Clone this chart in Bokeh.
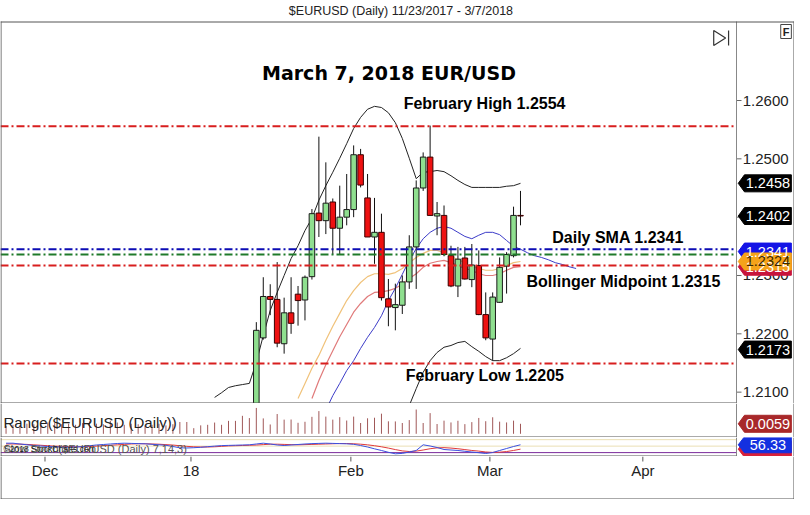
import numpy as np
import pandas as pd
from bokeh.plotting import figure
from bokeh.layouts import column
from bokeh.models import Range1d
from bokeh.core.properties import value
from bokeh.embed import file_html
from bokeh.resources import INLINE

# ------------------------------------------------------------------ data
chart_title = "$EURUSD (Daily)  11/23/2017 - 3/7/2018"
headline = "March 7, 2018 EUR/USD"
sessions = pd.bdate_range("2017-11-23", "2018-03-07")      # 75 daily sessions
first_candle = 36                                            # Jan 12 (earlier bars are below the price window)

opens = [1.2030, 1.2193, 1.2264, 1.2259, 1.2183, 1.2236, 1.2268, 1.2258, 1.2298, 1.2407,
         1.2394, 1.2426, 1.2381, 1.2400, 1.2413, 1.2507, 1.2433, 1.2366, 1.2374, 1.2260,
         1.2245, 1.2249, 1.2289, 1.2349, 1.2450, 1.2503, 1.2402, 1.2403, 1.2334, 1.2282,
         1.2330, 1.2293, 1.2317, 1.2233, 1.2191, 1.2254, 1.2316, 1.2334, 1.2403]
highs = [1.2220, 1.2297, 1.2285, 1.2323, 1.2262, 1.2297, 1.2282, 1.2300, 1.2414, 1.2538,
         1.2494, 1.2432, 1.2454, 1.2474, 1.2523, 1.2517, 1.2474, 1.2433, 1.2406, 1.2294,
         1.2286, 1.2300, 1.2369, 1.2463, 1.2511, 1.2557, 1.2426, 1.2420, 1.2351, 1.2349,
         1.2349, 1.2354, 1.2343, 1.2271, 1.2271, 1.2331, 1.2340, 1.2418, 1.2445]
lows = [1.2020, 1.2190, 1.2232, 1.2177, 1.2166, 1.2200, 1.2214, 1.2223, 1.2293, 1.2366,
        1.2371, 1.2336, 1.2336, 1.2386, 1.2400, 1.2451, 1.2366, 1.2320, 1.2257, 1.2213,
        1.2206, 1.2234, 1.2277, 1.2277, 1.2445, 1.2403, 1.2369, 1.2333, 1.2280, 1.2263,
        1.2293, 1.2280, 1.2232, 1.2189, 1.2154, 1.2253, 1.2269, 1.2331, 1.2386]
closes = [1.2206, 1.2264, 1.2259, 1.2184, 1.2236, 1.2218, 1.2257, 1.2297, 1.2406, 1.2394,
          1.2424, 1.2381, 1.2400, 1.2413, 1.2507, 1.2455, 1.2366, 1.2374, 1.2262, 1.2246,
          1.2250, 1.2289, 1.2349, 1.2450, 1.2503, 1.2403, 1.2406, 1.2336, 1.2282, 1.2328,
          1.2294, 1.2318, 1.2233, 1.2193, 1.2263, 1.2314, 1.2336, 1.2403, 1.2402]

# daily range of the sessions before Jan 12 (Nov 23 .. Jan 11)
early_ranges = [0.0040, 0.0050, 0.0045, 0.0060, 0.0055, 0.0050, 0.0070, 0.0065, 0.0055, 0.0060,
                0.0050, 0.0065, 0.0080, 0.0060, 0.0055, 0.0085, 0.0070, 0.0050, 0.0060, 0.0055,
                0.0045, 0.0050, 0.0060, 0.0045, 0.0055, 0.0075, 0.0075, 0.0020, 0.0045, 0.0050,
                0.0070, 0.0050, 0.0085, 0.0085, 0.0130, 0.0110]

upper_start = 30
upper_band = [1.2091, 1.2099, 1.2108, 1.2111, 1.2113, 1.2115, 1.2151, 1.2197, 1.2240, 1.2271,
              1.2300, 1.2329, 1.2351, 1.2377, 1.2398, 1.2429, 1.2454, 1.2477, 1.2501, 1.2526,
              1.2552, 1.2571, 1.2585, 1.2590, 1.2588, 1.2579, 1.2562, 1.2535, 1.2501, 1.2466,
              1.2477, 1.2478, 1.2480, 1.2478, 1.2471, 1.2463, 1.2456, 1.2451, 1.2451, 1.2451,
              1.2451, 1.2451, 1.2453, 1.2454, 1.2458]
lower_start = 58
lower_band = [1.2077, 1.2106, 1.2134, 1.2154, 1.2168, 1.2177, 1.2180, 1.2185, 1.2187, 1.2178,
              1.2170, 1.2161, 1.2154, 1.2154, 1.2159, 1.2166, 1.2175]
blue_start = 46
blue_avg = [1.2069, 1.2094, 1.2115, 1.2137, 1.2154, 1.2175, 1.2194, 1.2211, 1.2231, 1.2257,
            1.2278, 1.2302, 1.2326, 1.2346, 1.2363, 1.2374, 1.2381, 1.2384, 1.2381, 1.2374,
            1.2367, 1.2363, 1.2369, 1.2374, 1.2374, 1.2370, 1.2360, 1.2350, 1.2345, 1.2339,
            1.2334, 1.2331, 1.2327, 1.2322, 1.2319, 1.2315, 1.2312]
orange_start = 42
orange_avg = [1.2089, 1.2115, 1.2141, 1.2163, 1.2189, 1.2213, 1.2235, 1.2257, 1.2274, 1.2288,
              1.2298, 1.2303, 1.2303, 1.2302, 1.2305, 1.2312, 1.2322, 1.2331, 1.2338, 1.2343,
              1.2343, 1.2339, 1.2333, 1.2327, 1.2322, 1.2315, 1.2312, 1.2309, 1.2309, 1.2312,
              1.2317, 1.2322, 1.2324]
pink_start = 44
pink_avg = [1.2089, 1.2120, 1.2147, 1.2171, 1.2195, 1.2216, 1.2237, 1.2252, 1.2264, 1.2271,
            1.2272, 1.2274, 1.2278, 1.2285, 1.2295, 1.2303, 1.2314, 1.2321, 1.2324, 1.2326,
            1.2322, 1.2317, 1.2312, 1.2309, 1.2303, 1.2300, 1.2300, 1.2303, 1.2309, 1.2314,
            1.2315]

osc_k = [63.6, 63.6, 59.9, 56.2, 52.9, 50.6, 48.3, 46.9, 45.5, 45.0,
         46.4, 47.8, 52.0, 55.2, 57.6, 59.9, 62.2, 63.6, 62.7, 61.7,
         60.8, 58.5, 56.2, 53.9, 48.3, 42.3, 41.4, 42.7, 44.6, 47.4,
         50.1, 52.5, 53.4, 54.3, 55.2, 56.2, 59.9, 63.6, 59.9, 55.2,
         52.9, 55.2, 57.6, 59.9, 61.7, 62.7, 63.6, 62.7, 61.7, 60.8,
         58.5, 52.9, 46.0, 37.6, 29.8, 21.4, 14.5, 16.4, 22.8, 29.8,
         56.2, 50.6, 43.7, 34.4, 32.1, 29.8, 26.1, 22.8, 19.6, 15.9,
         20.5, 29.8, 39.0, 48.3, 56.3]
osc_d = [60, 60, 59, 58, 56, 54, 52, 50, 49, 48, 47,
         47, 48, 50, 52, 54, 56, 58, 60, 61, 61,
         60, 59, 57, 55, 52, 49, 47, 46, 46, 47,
         49, 51, 52, 53, 54, 55, 57, 59, 59, 58,
         57, 56, 57, 58, 59, 60, 61, 62, 62, 61,
         59, 56, 52, 47, 41, 34, 28, 25, 27, 32,
         38, 42, 43, 41, 38, 34, 30, 27, 23, 21,
         22, 25, 30, 36]
osc_levels = [20, 50, 80]

price_ticks = [1.21, 1.22, 1.23, 1.24, 1.25, 1.26]
level_values = [1.2556, 1.2345, 1.2336, 1.2317, 1.2149]
level_colors = ["#d81e1e", "#0c0cb4", "#1f7a2a", "#d81e1e", "#d81e1e"]
note_texts = ["February High 1.2554", "Daily SMA 1.2341", "Bollinger Midpoint 1.2315", "February Low 1.2205"]
tag_values = [1.2458, 1.2402, 1.2173, 1.2341, 1.2315, 1.2324]
tag_labels = ["1.2458", "1.2402", "1.2173", "1.2341", "1.2315", "1.2324"]
tag_fills = ["#000000", "#000000", "#000000", "#1414e6", "#c8143c", "#f5a31a"]
tag_text_colors = ["white", "white", "white", "white", "white", "#3a2800"]
range_tag = "0.0059"
osc_tag = "56.33"
month_labels = ["Dec", "18", "Feb", "Mar", "Apr"]
month_starts = ["2017-12-01", "2018-01-01", "2018-02-01", "2018-03-01", "2018-04-02"]

# ------------------------------------------------------------------ geometry
W = 794
H_MAIN, H_RANGE, H_OSC, H_AXIS = 403, 34, 19, 43
S_PLOT = 735.0 / 742.0                 # horizontal squeeze of the plotting area
AXIS_PX = 1 + 742 * S_PLOT             # price-axis line (figure px)
S_RIGHT = (W - 0.5 - AXIS_PX) / 65.0   # squeeze of the right-hand scale area
BAR_PX = 7.018 * S_PLOT
X0_PX = 1 + 4.6 * S_PLOT
BORDER = "#555555"
FONT = value("Liberation Sans")


def rx(ref):                           # layout px (as measured) -> figure px
    return 1 + (ref - 1) * S_PLOT if ref <= 743 else AXIS_PX + (ref - 743) * S_RIGHT


def bx(fx):                            # figure px -> bar units
    return (fx - X0_PX) / BAR_PX


def X(ref):
    return bx(rx(ref))


P_TOP, PPU = 1.277144, 5833.0
R_BASE, R_BASE_FY, RPPU = -0.003, 30.3, 1124.0
O_TOP, OPPU = 90.0, 19.0 / 88.0


def y_main(fy):
    return P_TOP - fy / PPU


def y_range(fy):
    return R_BASE + (R_BASE_FY - fy) / RPPU


def y_osc(fy):
    return O_TOP - fy / OPPU


def y_axis(fy):
    return H_AXIS - fy


def make_fig(h, yf):
    f = figure(width=W, height=h, x_range=Range1d(bx(0), bx(W)),
               y_range=Range1d(yf(h), yf(0)), output_backend="svg",
               toolbar_location=None, x_axis_type=None, y_axis_type=None,
               min_border=0, outline_line_color=None,
               background_fill_color="white", border_fill_color="white")
    return f


def frame_lines(f, yf, top_fy, bot_fy, sep=True, axis_line=True):
    xl, xr = bx(0.5), bx(W - 0.5)
    f.segment(x0=[xl, xr], y0=[yf(top_fy)] * 2, x1=[xl, xr], y1=[yf(bot_fy)] * 2,
              line_color=BORDER, line_width=1)
    if axis_line:
        f.segment(x0=[bx(AXIS_PX)], y0=[yf(top_fy)], x1=[bx(AXIS_PX)], y1=[yf(bot_fy)],
                  line_color="#888888", line_width=1)
    if sep:
        f.segment(x0=[bx(0)], y0=[yf(bot_fy - 0.5)], x1=[bx(AXIS_PX)], y1=[yf(bot_fy - 0.5)],
                  line_color=BORDER, line_width=1)


TAG_TIP, TAG_BODY, TAG_RIGHT = rx(745), rx(752), rx(805)


def tag_shapes(f, yf, centers_fy, fills, texts, text_colors, half=8.5, size="14.5px"):
    xs, ys = [], []
    for c in centers_fy:
        xs.append([bx(TAG_TIP), bx(TAG_BODY), bx(TAG_RIGHT), bx(TAG_RIGHT), bx(TAG_BODY)])
        ys.append([yf(c), yf(c - half), yf(c - half), yf(c + half), yf(c + half)])
    f.patches(xs, ys, fill_color=fills, line_color=fills, line_width=1)
    f.text(x=[bx((TAG_BODY + TAG_RIGHT) / 2)] * len(texts), y=[yf(c) for c in centers_fy],
           text=texts, text_color=text_colors, text_font=FONT, text_font_size=size,
           text_align="center", text_baseline="middle")


def to_idx(dates):
    d = np.array(dates, dtype="datetime64[D]")
    return np.busday_count(np.datetime64("2017-11-23"), d)


# ------------------------------------------------------------------ main panel
p = make_fig(H_MAIN, y_main)

cx = to_idx(sessions[first_candle:].values.astype("datetime64[D]"))
o, h, l, c = map(np.array, (opens, highs, lows, closes))
up = c >= o

# indicator lines (behind candles)
p.line(np.arange(upper_start, upper_start + len(upper_band)), upper_band, line_color="#222222", line_width=1)
p.line(np.arange(lower_start, lower_start + len(lower_band)), lower_band, line_color="#222222", line_width=1)
p.line(np.arange(orange_start, orange_start + len(orange_avg)), orange_avg, line_color="#f0c27a", line_width=1.2)
p.line(np.arange(pink_start, pink_start + len(pink_avg)), pink_avg, line_color="#e07a7a", line_width=1.2)
p.line(np.arange(blue_start, blue_start + len(blue_avg)), blue_avg, line_color="#3c3cc8", line_width=1)

# candles
p.segment(x0=cx, y0=h, x1=cx, y1=l, line_color="#111111", line_width=1)
p.vbar(x=cx[up], width=0.8, top=np.maximum(o, c)[up], bottom=np.minimum(o, c)[up],
       fill_color="#8fdf8f", line_color="#1a1a1a", line_width=1)
p.vbar(x=cx[~up], width=0.8, top=np.maximum(o, c)[~up], bottom=np.minimum(o, c)[~up],
       fill_color="#ee1111", line_color="#3a0000", line_width=1)

# drawn levels
for v, col in zip(level_values, level_colors):
    p.segment(x0=[bx(0)], y0=[v], x1=[bx(AXIS_PX)], y1=[v], line_color=col,
              line_width=2, line_dash="8 3 2 3")

# price scale (right)
p.segment(x0=[bx(AXIS_PX)] * len(price_ticks), y0=price_ticks,
          x1=[bx(AXIS_PX + 5)] * len(price_ticks), y1=price_ticks, line_color="#666666")
p.text(x=[X(750)] * len(price_ticks), y=price_ticks, text=[f"{t:.4f}" for t in price_ticks],
       text_font=FONT, text_font_size="15px", text_color="#222222",
       text_align="left", text_baseline="middle")
tag_shapes(p, y_main, [(P_TOP - v) * PPU for v in tag_values], tag_fills, tag_labels, tag_text_colors)

# frame
frame_lines(p, y_main, 21, H_MAIN)
p.segment(x0=[bx(0)], y0=[y_main(21.5)], x1=[bx(W)], y1=[y_main(21.5)], line_color=BORDER, line_width=1)

# titles and notes
p.text(x=[X(406)], y=[y_main(10)], text=[chart_title], text_font=FONT, text_font_size="12.5px",
       text_color="#222222", text_align="center", text_baseline="middle")
p.text(x=[X(264)], y=[y_main(72)], text=[headline], text_font=value("DejaVu Sans"),
       text_font_size="19px", text_font_style="bold", text_color="black",
       text_align="left", text_baseline="middle")
note_ref = [(407, 103), (557, 237), (531, 281), (409, 375)]
p.text(x=[X(a) for a, _ in note_ref], y=[y_main(b) for _, b in note_ref], text=note_texts,
       text_font=FONT, text_font_size="16px", text_font_style="bold", text_color="black",
       text_align="left", text_baseline="middle")

# small widgets top-right
p.patch(x=[X(720), X(732), X(720)], y=[y_main(30), y_main(37.5), y_main(45)],
        fill_color=None, line_color="#333333", line_width=1.2)
p.segment(x0=[X(735)], y0=[y_main(30)], x1=[X(735)], y1=[y_main(45)], line_color="#333333", line_width=1.2)
p.quad(left=[X(793)], right=[X(805)], top=[y_main(24)], bottom=[y_main(38)],
       fill_color="white", line_color="#444444")
p.text(x=[X(799)], y=[y_main(31)], text=["F"], text_font=FONT, text_font_size="11px",
       text_font_style="bold", text_color="#222222", text_align="center", text_baseline="middle")

# ------------------------------------------------------------------ range panel
r = make_fig(H_RANGE, y_range)
rng_x = np.arange(0, first_candle + len(highs))
rng_v = np.concatenate([early_ranges, h - l])
r.segment(x0=rng_x, y0=[R_BASE] * len(rng_x), x1=rng_x, y1=rng_v, line_color="#a05858", line_width=1)
r.text(x=[X(3)], y=[y_range(18.5)], text=["Range($EURUSD (Daily))"], text_font=FONT,
       text_font_size="15px", text_color="#222222", text_align="left", text_baseline="middle")
frame_lines(r, y_range, 0, H_RANGE)
tag_shapes(r, y_range, [R_BASE_FY - (float(range_tag) - R_BASE) * RPPU], ["#a8282a"],
           [range_tag], ["white"])

# ------------------------------------------------------------------ oscillator panel
q = make_fig(H_OSC, y_osc)
ox = np.arange(len(osc_k))
q.segment(x0=[bx(0)] * 3, y0=osc_levels, x1=[bx(AXIS_PX)] * 3, y1=osc_levels,
          line_color=["#7a2a9a", "#eadfb4", "#eadfb4"], line_width=1)
q.line(ox, osc_d, line_color="#e03a3a", line_width=1)
q.line(ox, osc_k, line_color="#3a50e0", line_width=1)
q.text(x=[X(3)], y=[y_osc(11)], text=["Slow Stoch($EURUSD (Daily) 7,14,3)"], text_font=FONT,
       text_font_size="11px", text_color="#555555", text_align="left", text_baseline="middle")
q.text(x=[X(3)], y=[y_osc(11.5)], text=["\u00a92018 StockCharts.com"], text_font=FONT,
       text_font_size="8.5px", text_color="#222222", text_align="left", text_baseline="middle")
frame_lines(q, y_osc, 0, H_OSC)
tag_shapes(q, y_osc, [(O_TOP - osc_d[-1]) * OPPU, (O_TOP - osc_k[-1]) * OPPU],
           ["#d8203a", "#1430e0"], ["", osc_tag], ["white", "white"], half=8)

# ------------------------------------------------------------------ date axis
a = make_fig(H_AXIS, y_axis)
tx = to_idx(month_starts) - 0.4
a.segment(x0=tx, y0=[y_axis(0)] * len(tx), x1=tx, y1=[y_axis(5)] * len(tx), line_color="#555555")
a.text(x=tx, y=[y_axis(14)] * len(tx), text=month_labels, text_font=FONT, text_font_size="15px",
       text_color="#222222", text_align="center", text_baseline="middle")
frame_lines(a, y_axis, 0, H_AXIS, sep=False, axis_line=False)
a.segment(x0=[bx(0)], y0=[y_axis(42.5)], x1=[bx(W)], y1=[y_axis(42.5)], line_color=BORDER)

layout = column(p, r, q, a, spacing=0)
open("out.html", "w").write(file_html(layout, INLINE))
